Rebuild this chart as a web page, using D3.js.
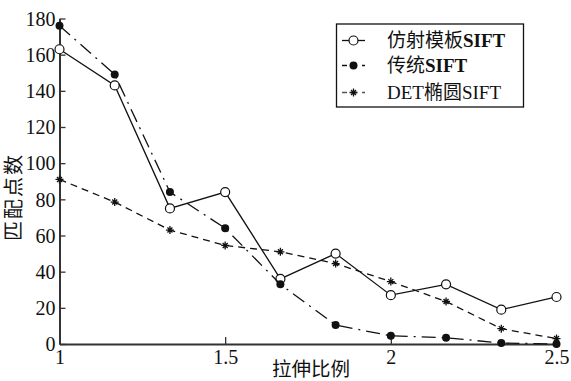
<!DOCTYPE html>
<html>
<head>
<meta charset="utf-8">
<script src="https://cdn.jsdelivr.net/npm/d3@7"></script>
<style>
  html, body { margin: 0; padding: 0; background: #fff; }
  svg { display: block; }
</style>
</head>
<body>
<svg id="chart" width="571" height="381"></svg>
<script>
// Stretch ratios on the x axis
const ratios = [1, 7/6, 4/3, 1.5, 5/3, 11/6, 2, 13/6, 7/3, 2.5];

// Number of matched points for each method
const affineSift = [163, 143, 75, 84, 36, 50, 27, 33, 19, 26];
const classicSift = [176, 149, 84, 64, 33, 10.5, 4.5, 3.5, 0.5, 0];
const detEllipseSift = [91, 78.5, 63, 54.5, 51, 44.5, 34.5, 23.5, 8.5, 3];

// Legend names: CJK part and Latin part (Latin part bold where noted)
const seriesNames = [
  [{ t: "仿射模板", b: false }, { t: "SIFT", b: true }],
  [{ t: "传统", b: false }, { t: "SIFT", b: true }],
  [{ t: "DET椭圆SIFT", b: false }]
];

const xTicks = [1, 1.5, 2, 2.5];
const xTickLabels = ["1", "1.5", "2", "2.5"];
const yTicks = [0, 20, 40, 60, 80, 100, 120, 140, 160, 180];

const xTitle = "拉伸比例";
const yTitle = "匹配点数";

const svg = d3.select("#chart");
const serif = "'Liberation Serif', 'Times New Roman', 'Noto Sans CJK SC', serif";

const x = d3.scaleLinear().domain([1, 2.5]).range([59.5, 556.5]);
const y = d3.scaleLinear().domain([0, 180]).range([344, 18.5]);

// Axes: ticks point inward, only left and bottom spines
const xAxis = d3.axisBottom(x).tickValues(xTicks)
  .tickFormat((d, i) => xTickLabels[i]).tickSizeInner(-7).tickSizeOuter(0).tickPadding(8);
const yAxis = d3.axisLeft(y).tickValues(yTicks)
  .tickSizeInner(-6).tickSizeOuter(0).tickPadding(4);

const gx = svg.append("g").attr("transform", `translate(0,${y(0)})`).call(xAxis);
const gy = svg.append("g").attr("transform", `translate(${x(1)},0)`).call(yAxis);

[gx, gy].forEach(g => {
  g.select(".domain").attr("stroke", "#333").attr("stroke-width", 2);
  g.selectAll(".tick line").attr("stroke", "#333").attr("stroke-width", 1.3);
  g.selectAll(".tick text").attr("fill", "#111")
    .style("font-family", serif).style("font-size", "20px");
});
gx.selectAll(".tick text").attr("dy", "0.6em");
gy.selectAll(".tick text").attr("dy", "0.34em");

// Axis titles
svg.append("text")
  .attr("x", 311).attr("y", 376)
  .attr("text-anchor", "middle")
  .style("font-family", serif).style("font-size", "19.5px").attr("fill", "#111")
  .text(xTitle);

svg.append("text")
  .attr("transform", "translate(21,197) rotate(-90)")
  .attr("text-anchor", "middle")
  .style("font-family", serif).style("font-size", "20px")
  .style("letter-spacing", "2px").attr("fill", "#111")
  .text(yTitle);

const line = d3.line().x((d, i) => x(ratios[i])).y(d => y(d));

const styles = [
  { data: affineSift, dash: null, marker: "circle" },
  { data: classicSift, dash: "14 6 2 6", marker: "dot" },
  { data: detEllipseSift, dash: "7 5", marker: "star" }
];

function drawMarker(g, kind, cx, cy) {
  if (kind === "circle") {
    g.append("circle").attr("cx", cx).attr("cy", cy).attr("r", 4.5)
      .attr("fill", "#fff").attr("stroke", "#111").attr("stroke-width", 1.2);
  } else if (kind === "dot") {
    g.append("circle").attr("cx", cx).attr("cy", cy).attr("r", 4)
      .attr("fill", "#111");
  } else {
    const s = 4;
    g.append("path")
      .attr("d", `M${cx - s},${cy}H${cx + s}M${cx},${cy - s}V${cy + s}` +
        `M${cx - 2.5},${cy - 2.5}L${cx + 2.5},${cy + 2.5}M${cx - 2.5},${cy + 2.5}L${cx + 2.5},${cy - 2.5}`)
      .attr("stroke", "#111").attr("stroke-width", 1.3);
  }
}

styles.forEach(s => {
  svg.append("path").datum(s.data)
    .attr("d", line)
    .attr("fill", "none").attr("stroke", "#111").attr("stroke-width", 1.3)
    .attr("stroke-dasharray", s.dash);
  const g = svg.append("g");
  s.data.forEach((v, i) => drawMarker(g, s.marker, x(ratios[i]), y(v)));
});

// Legend
const legend = svg.append("g");
legend.append("rect").attr("x", 336.5).attr("y", 24).attr("width", 187).attr("height", 83)
  .attr("fill", "#fff").attr("stroke", "#111").attr("stroke-width", 1.3);

const legendRows = [40.5, 65.5, 92.5];
styles.forEach((s, i) => {
  const ly = legendRows[i];
  legend.append("line").attr("x1", 342).attr("x2", 365).attr("y1", ly).attr("y2", ly)
    .attr("stroke", i === 2 ? "#555" : "#111").attr("stroke-width", 1.3)
    .attr("stroke-dasharray", i === 0 ? null : "5 5");
  drawMarker(legend, s.marker, 353.5, ly);
  const txt = legend.append("text").attr("x", 387).attr("y", ly).attr("dy", "0.35em")
    .style("font-family", serif).style("font-size", "19px").attr("fill", "#111");
  seriesNames[i].forEach(part => {
    txt.append("tspan").style("font-weight", part.b ? "bold" : "normal").text(part.t);
  });
});
</script>
</body>
</html>
